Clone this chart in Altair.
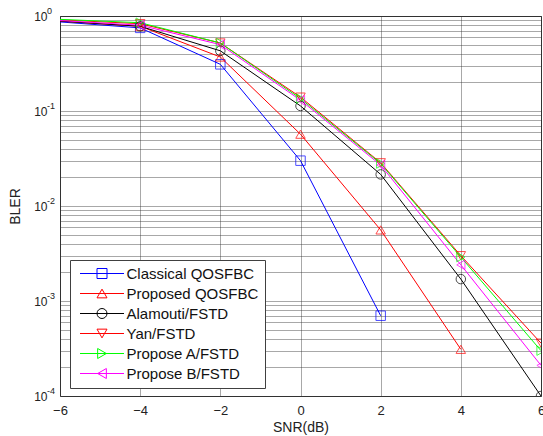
import altair as alt
import pandas as pd

FONT = "Liberation Sans"

# ---- data ----
snr = [-8, -4, -2, 0, 2, 4, 6]
series_names = ["Classical QOSFBC", "Proposed QOSFBC", "Alamouti/FSTD",
                "Yan/FSTD", "Propose A/FSTD", "Propose B/FSTD"]
classical = [1.0, 0.75, 0.31, 0.030, 0.0007, None, None]
proposed = [1.0, 0.78, 0.37, 0.057, 0.0056, 0.00031, None]
alamouti = [1.0, 0.78, 0.43, 0.113, 0.0215, 0.0017, 0.0001]
yan = [1.0, 0.83, 0.52, 0.14, 0.0285, 0.0030, 0.00036]
propose_a = [1.0, 0.85, 0.52, 0.135, 0.028, 0.0029, 0.00030]
propose_b = [1.0, 0.80, 0.50, 0.13, 0.027, 0.0024, 0.00021]

colors = ["#0000FF", "#FF0000", "#000000", "#FF0000", "#00FF00", "#FF00FF"]
shapes = ["square", "triangle-up", "circle", "triangle-down", "triangle-right", "triangle-left"]

x_ticks = [-6, -4, -2, 0, 2, 4, 6]
decades = [1.0, 0.1, 0.01, 0.001, 0.0001]
exponents = ["0", "-1", "-2", "-3", "-4"]
y_ticks = [m * d for d in decades[1:] for m in range(1, 10)] + [1.0]

# ---- legend symbols: line segment + marker (custom paths) ----
LINE = "M-4.4,0H4.4"
legend_paths = [
    LINE + "M-1,-1H1V1H-1Z",
    LINE + "M0,-0.87L1,0.87L-1,0.87Z",
    LINE + "M1,0A1,1,0,1,1,-1,0A1,1,0,1,1,1,0Z",
    LINE + "M0,0.87L1,-0.87L-1,-0.87Z",
    LINE + "M0.87,0L-0.87,1L-0.87,-1Z",
    LINE + "M-0.87,0L0.87,1L0.87,-1Z",
]

all_series = [classical, proposed, alamouti, yan, propose_a, propose_b]
rows = []
for name, vals in zip(series_names, all_series):
    for s, v in zip(snr, vals):
        if v is not None:
            rows.append({"snr": s, "bler": v, "series": name})
df = pd.DataFrame(rows)

x_enc = alt.X("snr:Q", scale=alt.Scale(domain=[-6, 6], nice=False, zero=False),
              axis=alt.Axis(values=x_ticks, title="SNR(dB)", labelFlush=False,
                            labelPadding=8, titleY=35, titleBaseline="alphabetic",
                            labelFontSize=13, titleFontSize=14))
label_expr = "indexof(" + str(decades) + ", datum.value) >= 0 ? '10' : ''"
y_enc = alt.Y("bler:Q", scale=alt.Scale(type="log", domain=[1e-4, 1], nice=False),
              axis=alt.Axis(values=y_ticks, labelExpr=label_expr, title="BLER",
                            labelOverlap=False, labelPadding=13, labelFontSize=12,
                            titleX=-38, titleY=190, titleFontSize=14))

color_scale = alt.Scale(domain=series_names, range=colors)
shape_scale = alt.Scale(domain=series_names, range=legend_paths)

base = alt.Chart(df)

layers = []
for i, (name, col, shp) in enumerate(zip(series_names, colors, shapes)):
    sub = base.transform_filter(alt.datum.series == name)
    layers.append(
        sub.mark_line(strokeWidth=1, color=col, clip=True).encode(
            x=x_enc if i == 0 else "snr:Q", y=y_enc if i == 0 else "bler:Q")
    )
for name, col, shp in zip(series_names, colors, shapes):
    sub = base.transform_filter(alt.datum.series == name)
    layers.append(
        sub.mark_point(shape=shp, filled=False, size=90, strokeWidth=1, color=col, clip=True)
        .encode(x="snr:Q", y="bler:Q")
    )

legend = alt.Legend(
    orient="none", legendX=10, legendY=244, title=None,
    fillColor="white", strokeColor="#404040", padding=6,
    symbolSize=100, symbolStrokeWidth=1, symbolOffset=18.5,
    labelOffset=17, labelFontSize=15, labelFont=FONT, labelColor="#111111",
    rowPadding=4, symbolOpacity=1, labelLimit=300,
)
legend_layer = base.mark_point(filled=False, opacity=0, strokeWidth=1, clip=True).encode(
    x="snr:Q", y="bler:Q",
    color=alt.Color("series:N", scale=color_scale, legend=legend),
    shape=alt.Shape("series:N", scale=shape_scale, legend=legend),
)
layers.append(legend_layer)

sup_df = pd.DataFrame({"bler": decades, "exp": exponents})
sup = alt.Chart(sup_df).mark_text(
    align="left", baseline="alphabetic", dx=-13, dy=-2, fontSize=9,
    font=FONT, color="#222222"
).encode(x=alt.datum(-6), y="bler:Q", text="exp:N")
layers.append(sup)

chart = alt.layer(*layers).properties(
    width=481, height=380,
    padding={"left": 60, "top": 16, "right": 2, "bottom": 40},
    autosize=alt.AutoSizeParams(type="none"),
    background="white",
).configure_view(
    stroke="#333333", strokeWidth=1
).configure_axis(
    grid=True, gridColor="#333333", gridDash=[1, 1], gridOpacity=0.85, gridWidth=1,
    domain=False, ticks=False, tickSize=0,
    labelFont=FONT, titleFont=FONT, labelColor="#222222", titleColor="#222222",
    titleFontWeight="normal",
)

chart.save("out.html", embed_options={"renderer": "svg", "actions": False})
